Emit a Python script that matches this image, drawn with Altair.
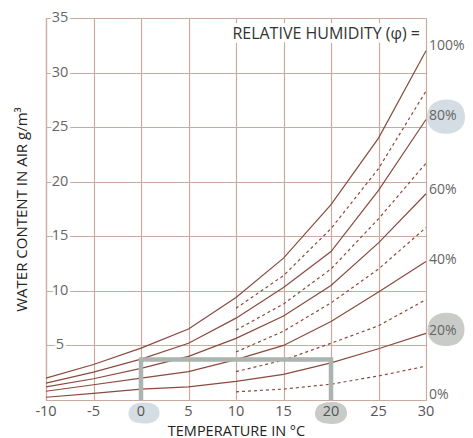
import altair as alt
import pandas as pd

# ---------------- data ----------------
temps = [-10, -5, 0, 5, 10, 15, 20, 25, 30]
rh100 = [2.0, 3.25, 4.75, 6.5, 9.4, 13.0, 17.9, 24.0, 32.0]
rh80 = [1.55, 2.55, 3.75, 5.2, 7.5, 10.3, 13.6, 19.2, 25.7]
rh60 = [1.2, 1.95, 2.9, 4.0, 5.65, 7.7, 10.5, 14.4, 18.9]
rh40 = [0.8, 1.4, 2.0, 2.6, 3.7, 5.0, 7.2, 9.9, 12.7]
rh20 = [0.25, 0.6, 1.0, 1.2, 1.7, 2.35, 3.4, 4.7, 6.1]

dash_temps = [10, 15, 20, 25, 30]
rh90 = [8.4, 11.4, 15.7, 21.2, 28.3]
rh70 = [6.4, 8.8, 12.0, 16.6, 21.7]
rh50 = [4.4, 6.3, 8.9, 12.0, 15.8]
rh30 = [2.6, 3.65, 5.2, 6.8, 9.2]
rh10 = [0.75, 1.0, 1.45, 2.2, 3.1]

x_ticks = [-10, -5, 0, 5, 10, 15, 20, 25, 30]
y_ticks = [5, 10, 15, 20, 25, 30, 35]
rh_labels = ["100%", "80%", "60%", "40%", "20%", "0%"]
rh_label_pos = [32.4, 26.0, 19.2, 12.8, 6.3, 0.5]

box_temps = [0, 0, 20, 20]
box_vals = [0, 3.7, 3.7, 0]

legend_title = "RELATIVE HUMIDITY (φ) ="
x_title = "TEMPERATURE IN °C"
y_title = "WATER CONTENT IN AIR g/m³"

# ---------------- style ----------------
W, H = 380, 382
LINE = "#8b4a3e"
GRID = "#c9ab9f"
FONT = "Open Sans"
BLUE_BLOB = "#d4dde3"
GREY_BLOB = "#c8cbc8"

solid_df = pd.DataFrame(
    [{"t": t, "v": v, "rh": n}
     for n, vals in [("100", rh100), ("80", rh80), ("60", rh60), ("40", rh40), ("20", rh20)]
     for t, v in zip(temps, vals)]
)
dashed_df = pd.DataFrame(
    [{"t": t, "v": v, "rh": n}
     for n, vals in [("90", rh90), ("70", rh70), ("50", rh50), ("30", rh30), ("10", rh10)]
     for t, v in zip(dash_temps, vals)]
)
box_df = pd.DataFrame({"t": box_temps, "v": box_vals, "i": list(range(len(box_temps)))})
ylab_df = pd.DataFrame({"t": [-10] * len(y_ticks), "v": y_ticks, "lab": [str(v) for v in y_ticks]})
xlab_df = pd.DataFrame({"t": x_ticks, "v": [0] * len(x_ticks), "lab": [str(v) for v in x_ticks]})
rhlab_df = pd.DataFrame({"t": [30] * len(rh_labels), "v": rh_label_pos, "lab": rh_labels})
title_df = pd.DataFrame({"t": [30], "v": [33.5], "lab": [legend_title]})

xs = alt.Scale(domain=[-10, 30], nice=False, zero=False)
ys = alt.Scale(domain=[0, 35], nice=False, zero=False)

x_axis = alt.Axis(values=x_ticks, labels=False, ticks=False, grid=True, gridColor=GRID,
                  gridWidth=1.2, domainColor=GRID, domainWidth=1.2, title=x_title,
                  titlePadding=24, titleFontSize=14.5, titleFont=FONT, titleColor="#222",
                  titleFontWeight="normal")
y_axis = alt.Axis(values=y_ticks + [0], labels=False, ticks=False, grid=True, gridColor=GRID,
                  gridWidth=1.2, domainColor=GRID, domainWidth=1.2, title=y_title,
                  titlePadding=17, titleFontSize=15, titleFont=FONT, titleColor="#222",
                  titleFontWeight="normal")

X = alt.X("t:Q", scale=xs, axis=x_axis)
Y = alt.Y("v:Q", scale=ys, axis=y_axis)

blob_wide = "M-1,0.05 C-1,-0.5 -0.55,-0.68 0.05,-0.68 C0.7,-0.68 1,-0.4 1,0 C1,0.45 0.6,0.7 0,0.68 C-0.6,0.66 -1,0.5 -1,0.05Z"
blob_round = "M-1,0.05 C-1,-0.6 -0.5,-0.9 0.1,-0.88 C0.7,-0.86 1,-0.5 1,0.05 C1,0.6 0.6,0.92 0,0.92 C-0.6,0.92 -1,0.6 -1,0.05Z"

def blob(t, v, shape, size, color, xo, yo):
    d = pd.DataFrame({"t": [t], "v": [v]})
    return alt.Chart(d).mark_point(shape=shape, size=size, filled=True, fill=color,
                                   opacity=1, strokeWidth=0, xOffset=xo, yOffset=yo).encode(x=X, y=Y)

blobs = [
    blob(0, 0, blob_wide, 31 * 31, BLUE_BLOB, 3, 13),
    blob(20, 0, blob_wide, 32 * 32, GREY_BLOB, 0, 13),
    blob(30, 26.0, blob_round, 38 * 38, BLUE_BLOB, 20, 0),
    blob(30, 6.5, blob_round, 37 * 37, GREY_BLOB, 20, 0),
]

solid = alt.Chart(solid_df).mark_line(color=LINE, strokeWidth=1.2).encode(
    x=X, y=Y, detail="rh:N")
dashed = alt.Chart(dashed_df).mark_line(color=LINE, strokeWidth=1.2, strokeDash=[3, 3]).encode(
    x=X, y=Y, detail="rh:N")
box = alt.Chart(box_df).mark_line(color="#abb4ae", strokeWidth=4.5).encode(
    x=X, y=Y, order="i:Q")

ylab_halo = alt.Chart(ylab_df).mark_text(dx=14, align="center", baseline="middle", fontSize=14.5,
                                         font=FONT, stroke="white", strokeWidth=5, strokeJoin="round",
                                         fill="white").encode(x=X, y=Y, text="lab:N")
ylab = alt.Chart(ylab_df).mark_text(dx=14, align="center", baseline="middle", fontSize=14.5,
                                    font=FONT, color="#666").encode(x=X, y=Y, text="lab:N")
xlab = alt.Chart(xlab_df).mark_text(dy=12, align="center", baseline="middle", fontSize=14.5,
                                    font=FONT, color="#555").encode(x=X, y=Y, text="lab:N")
rhlab = alt.Chart(rhlab_df).mark_text(dx=3, align="left", baseline="middle", fontSize=14,
                                      font=FONT, color="#666").encode(x=X, y=Y, text="lab:N")
title_halo = alt.Chart(title_df).mark_text(dx=-6, align="right", baseline="middle", fontSize=16,
                                           font=FONT, stroke="white", strokeWidth=8, strokeJoin="round",
                                           fill="white").encode(x=X, y=Y, text="lab:N")
title = alt.Chart(title_df).mark_text(dx=-6, align="right", baseline="middle", fontSize=16,
                                      font=FONT, color="#333").encode(x=X, y=Y, text="lab:N")

chart = alt.layer(
    *blobs, solid, dashed, box, ylab_halo, ylab, xlab, rhlab, title_halo, title
).properties(
    width=W, height=H,
    autosize=alt.AutoSizeParams(type="none"),
    padding={"left": 38, "top": 10, "right": 39, "bottom": 38},
).configure_view(stroke=None).configure(font=FONT)

chart.save("out.html", embed_options={"renderer": "svg", "actions": False})
